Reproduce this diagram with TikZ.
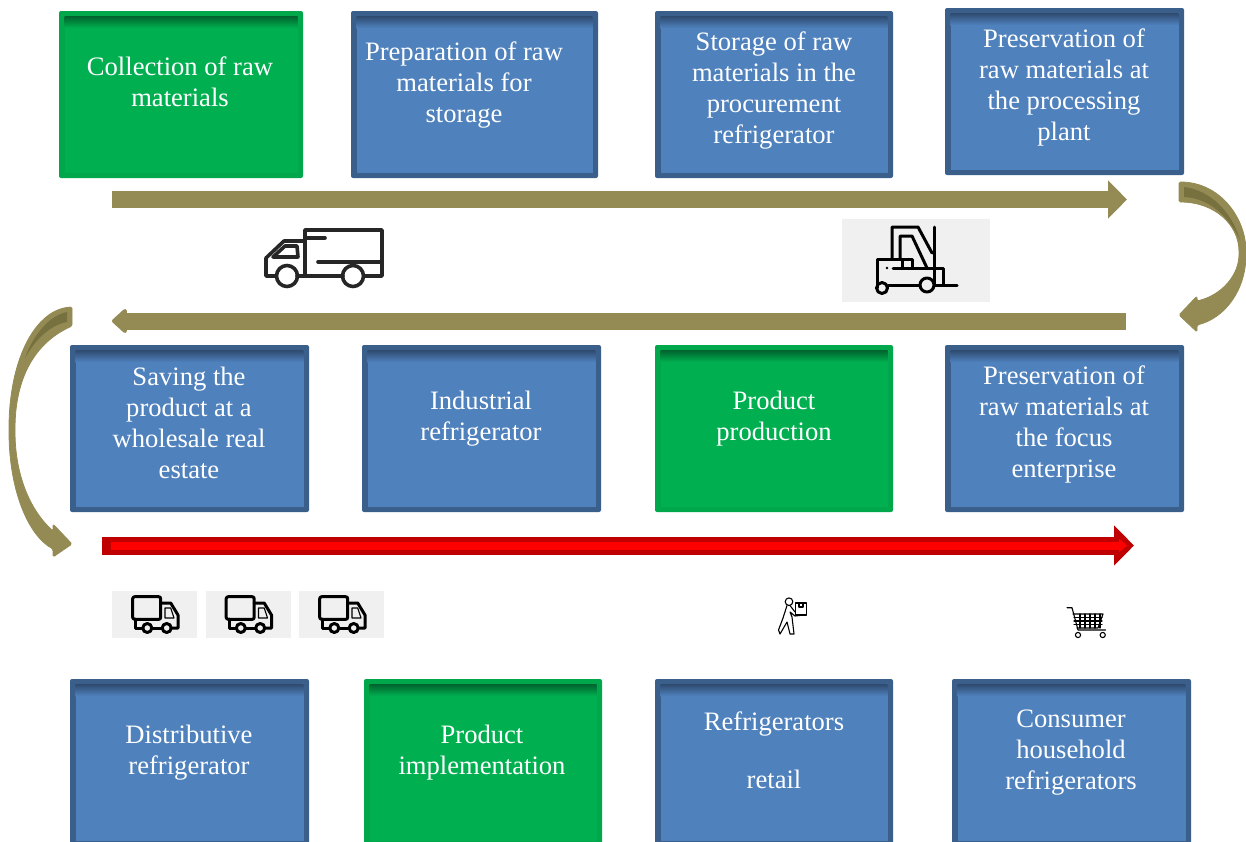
\documentclass[tikz,border=0pt]{standalone}
\usepackage{fontspec}
\setmainfont{Liberation Serif}
\usetikzlibrary{arrows.meta}
\definecolor{boxblue}{HTML}{4F81BD}
\definecolor{edgeblue}{HTML}{3A5F8B}
\definecolor{topblue}{HTML}{2E4A6E}
\definecolor{boxgreen}{HTML}{00B050}
\definecolor{edgegreen}{HTML}{00A84B}
\definecolor{topgreen}{HTML}{00622D}
\definecolor{olive}{HTML}{948A54}
\definecolor{darkolive}{HTML}{77703F}
\definecolor{iconbg}{HTML}{F0F0F0}
\definecolor{darkred}{HTML}{C00000}
\tikzset{
  bevelbox/.style n args={5}{rectangle, fill=#1, rounded corners=2pt, inner sep=0pt, outer sep=0pt,
    minimum width=#4, minimum height=#5,
    path picture={
      \fill[#2, sharp corners] ([xshift=5.5pt,yshift=5pt]path picture bounding box.south west) rectangle ([xshift=-5.5pt,yshift=-5pt]path picture bounding box.north east);
      \shade[top color=#3, bottom color=#2, sharp corners] ([xshift=5.5pt,yshift=-5pt]path picture bounding box.north west) rectangle ([xshift=-5.5pt,yshift=-17pt]path picture bounding box.north east);
    }},
  blubox/.style 2 args={bevelbox={edgeblue}{boxblue}{topblue}{#1}{#2}},
  grnbox/.style 2 args={bevelbox={edgegreen}{boxgreen}{topgreen}{#1}{#2}},
  boxtxt/.style={text=white, align=center, inner sep=0pt, font=\fontsize{26.6pt}{31pt}\selectfont},
  flatarrow/.style={draw=olive, line width=17pt, -{Triangle[width=37pt,length=19pt]}},
  backarrow/.style={draw=olive, line width=17pt, -{Triangle[width=28pt,length=16pt,round]}},
  redarrow/.style={draw=darkred, line width=18pt, -{Triangle[width=39pt,length=20pt]}},
  redcore/.style={draw=red, line width=8pt, -{Triangle[width=13pt,length=8pt]}},
  curvearrow/.style={fill=olive, draw=olive, line width=0.8pt, line join=round},
  curveshade/.style={fill=darkolive},
  iconback/.style={fill=iconbg},
  iconline/.style={draw=black!85, line width=3.6pt, line join=round, line cap=round},
  thinline/.style={draw=black, line width=3pt, line join=round, line cap=round},
  fineline/.style={draw=black, line width=1.1pt, line join=round, line cap=round}
}
\begin{document}
\begin{tikzpicture}[x=1pt,y=-1pt]
      \path[use as bounding box, clip] (0,0) rectangle (1246,841);
      \node (collect) at (181,94.5) [grnbox={244pt}{167pt}] {};
      \node (prepare) at (474.5,94.5) [blubox={247pt}{167pt}] {};
      \node (storage) at (774,94.5) [blubox={238pt}{167pt}] {};
      \node (preserve) at (1064.5,91.5) [blubox={239pt}{167pt}] {};
      \node (saving) at (189.5,428.5) [blubox={239pt}{167pt}] {};
      \node (industrial) at (481.5,428.5) [blubox={239pt}{167pt}] {};
      \node (product) at (774,428.5) [grnbox={238pt}{167pt}] {};
      \node (focus) at (1064.5,428.5) [blubox={239pt}{167pt}] {};
      \node (distrib) at (189.5,762.5) [blubox={239pt}{167pt}] {};
      \node (implement) at (483,762.5) [grnbox={238pt}{167pt}] {};
      \node (retail) at (774,762.5) [blubox={238pt}{167pt}] {};
      \node (household) at (1071.5,762.5) [blubox={239pt}{167pt}] {};
      \node (collecttxt) at (180,82) [boxtxt] {Collection of raw\\materials};
      \node (preparetxt) at (464,85) [boxtxt] {Preparation of raw\\materials for\\storage};
      \node (storagetxt) at (774,91) [boxtxt] {Storage of raw\\materials in the\\procurement\\refrigerator};
      \node (preservetxt) at (1064,87.5) [boxtxt] {Preservation of\\raw materials at\\the processing\\plant};
      \node (savingtxt) at (189,422.5) [boxtxt] {Saving the\\product at a\\wholesale real\\estate};
      \node (industrialtxt) at (481,418.5) [boxtxt] {Industrial\\refrigerator};
      \node (producttxt) at (774,418.5) [boxtxt] {Product\\production};
      \node (focustxt) at (1064,424) [boxtxt] {Preservation of\\raw materials at\\the focus\\enterprise};
      \node (distribtxt) at (189,752.5) [boxtxt] {Distributive\\refrigerator};
      \node (implementtxt) at (482,752.5) [boxtxt] {Product\\implementation};
      \node (retailtxt) at (774,750) [boxtxt] {Refrigerators\\[27pt]retail};
      \node (householdtxt) at (1071,753) [boxtxt] {Consumer\\household\\refrigerators};
      \coordinate (r1start) at (112,199.5);
      \coordinate (r1end) at (1127,199.5);
      \coordinate (r2start) at (1126,321);
      \coordinate (r2end) at (112,321);
      \coordinate (r3start) at (102,545.5);
      \coordinate (r3end) at (1134,545.5);
      \coordinate (r3inner) at (111,545.5);
      \coordinate (r3core) at (1127,545.5);
      \coordinate (rcstart) at (1179,192);
      \coordinate (rcend) at (1179,315);
      \coordinate (lcstart) at (72,316.5);
      \coordinate (lcend) at (72,544);
      \draw[flatarrow] (r1start) -- (r1end);
      \draw[backarrow] (r2start) -- (r2end);
      \draw[redarrow] (r3start) -- (r3end);
      \draw[redcore] (r3inner) -- (r3core);
      \path[curvearrow, rounded corners=1.5pt] ([yshift=10pt]rcstart) .. controls (1220,182) and (1246,218) .. (1246,253)
        .. controls (1246,290) and (1225,318) .. (1197,325) -- (1197,332) -- (rcend) -- (1197,296) -- (1197,301)
        .. controls (1222,295) and (1239,275) .. (1239,253) .. controls (1239,225) and (1215,202) .. ([yshift=-10pt]rcstart) -- cycle;
      \path[curveshade] (1184,187) .. controls (1210,190) and (1232,212) .. (1240,240) .. controls (1228,215) and (1208,198) .. (1184,197) -- cycle;
      \path[curvearrow, rounded corners=1.5pt] ([yshift=9.5pt]lcstart) .. controls (35,309) and (9,360) .. (9,430)
        .. controls (9,490) and (28,535) .. (53,549) -- (53,557) -- (lcend) -- (53,524) -- (53,531)
        .. controls (30,510) and (15,475) .. (15,430) .. controls (15,385) and (30,345) .. ([yshift=-9.5pt]lcstart) -- cycle;
      \path[curveshade] (67,312) .. controls (50,315) and (33,335) .. (25,358) .. controls (35,340) and (50,325) .. (67,322) -- cycle;
      \draw[iconline] (305,276) -- (305,230) -- (382,230) -- (382,276) -- (364,276);
      \draw[iconline] (305,238) -- (325,238);
      \draw[iconline] (318,262) -- (382,262);
      \draw[iconline] (305,241) -- (284,241) -- (266,258) -- (266,276) -- (276,276);
      \draw[iconline] (297,276) -- (343,276);
      \draw[iconline] (273,257) -- (285,246) -- (297,246) -- (298,257) -- cycle;
      \draw[iconline] (287,276) circle (10.5);
      \draw[iconline] (353,276) circle (10.5);
      \path[iconback] (842,219) rectangle (990,302);
      \draw[thinline] (934,227) -- (934,285) -- (957,285);
      \draw[thinline] (892,258) -- (892,227) -- (918,227) -- (932,253);
      \draw[thinline] (900,258) -- (900,236) -- (912,236) -- (927,268);
      \draw[thinline] (902,268) -- (902,259) -- (912,259) -- (912,268);
      \draw[thinline] (877,288) -- (877,259) -- (902,259);
      \draw[thinline] (893,268) -- (943,268) -- (943,285);
      \draw[thinline] (888,285) -- (920,285);
      \draw[thinline] (882,288) circle (5.5);
      \draw[thinline] (927,285) circle (7);
      \fill (887,268) circle (1.3);
      \foreach \dx in {0, 93.5, 187} {
        \begin{scope}[shift={(\dx,0)}]
          \path[iconback] (112,591) rectangle (197,638);
          \draw[thinline, rounded corners=2pt] (132.7,596.7) rectangle (160.7,619.3);
          \draw[thinline] (160.7,603) -- (170.7,603) -- (178,615) -- (178,628) -- (172,628);
          \draw[fineline] (165,608) -- (170.7,608) -- (174,618) -- (165,618) -- cycle;
          \draw[thinline] (135.7,619) -- (135.7,628) -- (142,628);
          \draw[thinline] (152.5,628) -- (161.5,628);
          \draw[thinline] (147.3,628) circle (4.5);
          \draw[thinline] (166.7,628) circle (4.5);
        \end{scope}
      }
      \draw[fineline] (789,601.7) circle (3.8);
      \draw[fineline] (795.7,603) rectangle (806.7,615);
      \draw[fineline] (799,603) -- (799,607) -- (803,607) -- (803,603);
      \draw[fineline] (787,605.5) -- (783,618) -- (778.5,630) -- (780,634) -- (787,622) -- (790,634) -- (794,634) -- (792,617) -- (790,612) -- (795,616) -- (804,615);
      \draw[fineline] (790,605.5) -- (795,612);
      \draw[fineline] (1067,607.7) -- (1072,607.7) -- (1078,630) -- (1105.5,630);
      \draw[fineline] (1073,614) -- (1103,614) -- (1098,628) -- (1077,628);
      \foreach \gx in {1080,1085,1090,1095,1100}
        \draw[fineline] (\gx,614) -- (\gx,628);
      \foreach \gy in {617.5,621,624.5}
        \draw[fineline] (1074,\gy) -- (1102,\gy);
      \draw[fineline] (1078,635) circle (2.6);
      \draw[fineline] (1102.7,635) circle (2.6);
    \end{tikzpicture}
\end{document}
